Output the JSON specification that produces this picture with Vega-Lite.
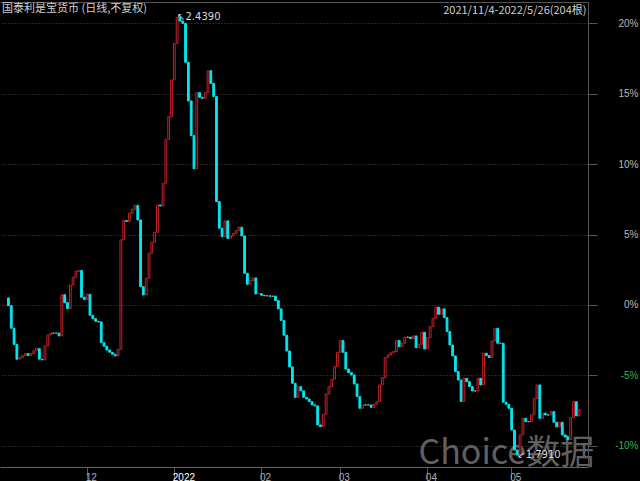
{
  "$schema": "https://vega.github.io/schema/vega-lite/v6.json",
  "autosize": {"type": "none"},
  "width": 588,
  "height": 465,
  "padding": {"left": 0, "top": 2, "right": 52, "bottom": 14},
  "background": "#000000",
  "config": {"view": {"stroke": null}},
  "title": {"text": "国泰利是宝货币 (日线,不复权)", "anchor": "start", "frame": "group", "offset": -12, "dx": 2, "fontSize": 11, "font": "Noto Sans CJK SC", "fontWeight": "normal", "color": "#cfcfcf"},
  "datasets": {
    "k": [
      {"d":"2021-11-04","o":0.5,"c":-0.05},{"d":"2021-11-05","o":-0.05,"c":-1.65},{"d":"2021-11-06","o":-1.65,"c":-2.8},{"d":"2021-11-07","o":-2.8,"c":-3.85},{"d":"2021-11-08","o":-3.85,"c":-3.75},{"d":"2021-11-09","o":-3.75,"c":-3.6},{"d":"2021-11-10","o":-3.6,"c":-3.45},{"d":"2021-11-11","o":-3.45,"c":-3.6},{"d":"2021-11-12","o":-3.6,"c":-3.45},{"d":"2021-11-13","o":-3.45,"c":-3.25},{"d":"2021-11-14","o":-3.25,"c":-3.1},{"d":"2021-11-15","o":-3.1,"c":-3.85},{"d":"2021-11-16","o":-3.85,"c":-3.9},{"d":"2021-11-17","o":-3.9,"c":-2.9},{"d":"2021-11-18","o":-2.9,"c":-2.13},{"d":"2021-11-19","o":-2.13,"c":-2.0},{"d":"2021-11-20","o":-2.0,"c":-2.0},{"d":"2021-11-21","o":-2.0,"c":-2.0},{"d":"2021-11-22","o":-2.0,"c":-2.2},{"d":"2021-11-23","o":-2.2,"c":0.73},{"d":"2021-11-24","o":0.73,"c":0.16},{"d":"2021-11-25","o":0.16,"c":-0.26},{"d":"2021-11-26","o":-0.26,"c":1.42},{"d":"2021-11-27","o":1.42,"c":1.97},{"d":"2021-11-28","o":1.97,"c":2.39},{"d":"2021-11-29","o":2.39,"c":2.45},{"d":"2021-11-30","o":2.45,"c":0.55},
      {"d":"2021-12-01","o":0.55,"c":0.4},{"d":"2021-12-02","o":0.4,"c":0.76},{"d":"2021-12-03","o":0.76,"c":-0.73},{"d":"2021-12-04","o":-0.73,"c":-0.97},{"d":"2021-12-05","o":-0.97,"c":-1.16},{"d":"2021-12-06","o":-1.16,"c":-1.2},{"d":"2021-12-07","o":-1.2,"c":-2.68},{"d":"2021-12-08","o":-2.68,"c":-2.93},{"d":"2021-12-09","o":-2.93,"c":-3.2},{"d":"2021-12-10","o":-3.2,"c":-3.36},{"d":"2021-12-11","o":-3.36,"c":-3.5},{"d":"2021-12-12","o":-3.5,"c":-3.62},{"d":"2021-12-13","o":-3.62,"c":-3.15},{"d":"2021-12-14","o":-3.15,"c":4.62},{"d":"2021-12-15","o":4.62,"c":5.99},{"d":"2021-12-16","o":5.99,"c":5.93},{"d":"2021-12-17","o":5.93,"c":6.51},{"d":"2021-12-18","o":6.51,"c":6.8},{"d":"2021-12-19","o":6.8,"c":7.08},{"d":"2021-12-20","o":7.08,"c":6.04},{"d":"2021-12-21","o":6.04,"c":1.3},{"d":"2021-12-22","o":1.3,"c":0.71},{"d":"2021-12-23","o":0.71,"c":1.9},{"d":"2021-12-24","o":1.9,"c":3.67},{"d":"2021-12-25","o":3.67,"c":4.45},{"d":"2021-12-26","o":4.45,"c":5.16},{"d":"2021-12-27","o":5.16,"c":7.1},{"d":"2021-12-28","o":7.1,"c":7.03},{"d":"2021-12-29","o":7.03,"c":8.64},{"d":"2021-12-30","o":8.64,"c":11.77},{"d":"2021-12-31","o":11.77,"c":13.37},
      {"d":"2022-01-01","o":13.37,"c":15.98},{"d":"2022-01-02","o":15.98,"c":18.59},{"d":"2022-01-03","o":18.59,"c":20.43},{"d":"2022-01-04","o":20.43,"c":20.17},{"d":"2022-01-05","o":20.17,"c":20.0},{"d":"2022-01-06","o":20.0,"c":17.24},{"d":"2022-01-07","o":17.24,"c":14.49},{"d":"2022-01-08","o":14.49,"c":12.03},{"d":"2022-01-09","o":12.03,"c":9.68},{"d":"2022-01-10","o":9.68,"c":15.08},{"d":"2022-01-11","o":15.08,"c":14.75},{"d":"2022-01-12","o":14.75,"c":14.68},{"d":"2022-01-13","o":14.68,"c":15.08},{"d":"2022-01-14","o":15.08,"c":16.64},{"d":"2022-01-15","o":16.64,"c":15.74},{"d":"2022-01-16","o":15.74,"c":14.8},{"d":"2022-01-17","o":14.8,"c":7.34},{"d":"2022-01-18","o":7.34,"c":5.45},{"d":"2022-01-19","o":5.45,"c":4.85},{"d":"2022-01-20","o":4.85,"c":5.97},{"d":"2022-01-21","o":5.97,"c":4.73},{"d":"2022-01-22","o":4.73,"c":4.9},{"d":"2022-01-23","o":4.9,"c":5.09},{"d":"2022-01-24","o":5.09,"c":5.28},{"d":"2022-01-25","o":5.28,"c":5.52},{"d":"2022-01-26","o":5.52,"c":4.9},{"d":"2022-01-27","o":4.9,"c":2.25},{"d":"2022-01-28","o":2.25,"c":1.47},{"d":"2022-01-29","o":1.47,"c":1.73},{"d":"2022-01-30","o":1.73,"c":1.92},{"d":"2022-01-31","o":1.92,"c":0.78},
      {"d":"2022-02-01","o":0.78,"c":0.8},{"d":"2022-02-02","o":0.8,"c":0.69},{"d":"2022-02-03","o":0.69,"c":0.65},{"d":"2022-02-04","o":0.65,"c":0.65},{"d":"2022-02-05","o":0.65,"c":0.62},{"d":"2022-02-06","o":0.62,"c":0.62},{"d":"2022-02-07","o":0.62,"c":0.31},{"d":"2022-02-08","o":0.31,"c":-0.28},{"d":"2022-02-09","o":-0.28,"c":-1.11},{"d":"2022-02-10","o":-1.11,"c":-2.15},{"d":"2022-02-11","o":-2.15,"c":-3.27},{"d":"2022-02-12","o":-3.27,"c":-4.4},{"d":"2022-02-13","o":-4.4,"c":-5.56},{"d":"2022-02-14","o":-5.56,"c":-6.56},{"d":"2022-02-15","o":-6.56,"c":-5.8},{"d":"2022-02-16","o":-5.8,"c":-6.1},{"d":"2022-02-17","o":-6.1,"c":-6.56},{"d":"2022-02-18","o":-6.56,"c":-6.68},{"d":"2022-02-19","o":-6.68,"c":-6.87},{"d":"2022-02-20","o":-6.87,"c":-7.1},{"d":"2022-02-21","o":-7.1,"c":-7.17},{"d":"2022-02-22","o":-7.17,"c":-8.52},{"d":"2022-02-23","o":-8.52,"c":-8.64},{"d":"2022-02-24","o":-8.64,"c":-7.76},{"d":"2022-02-25","o":-7.76,"c":-6.32},{"d":"2022-02-26","o":-6.32,"c":-5.8},{"d":"2022-02-27","o":-5.8,"c":-5.28},{"d":"2022-02-28","o":-5.28,"c":-4.38},
      {"d":"2022-03-01","o":-4.38,"c":-3.36},{"d":"2022-03-02","o":-3.36,"c":-2.53},{"d":"2022-03-03","o":-2.53,"c":-3.36},{"d":"2022-03-04","o":-3.36,"c":-4.55},{"d":"2022-03-05","o":-4.55,"c":-4.81},{"d":"2022-03-06","o":-4.81,"c":-4.97},{"d":"2022-03-07","o":-4.97,"c":-5.61},{"d":"2022-03-08","o":-5.61,"c":-6.51},{"d":"2022-03-09","o":-6.51,"c":-7.34},{"d":"2022-03-10","o":-7.34,"c":-7.1},{"d":"2022-03-11","o":-7.1,"c":-7.1},{"d":"2022-03-12","o":-7.1,"c":-7.1},{"d":"2022-03-13","o":-7.1,"c":-7.27},{"d":"2022-03-14","o":-7.27,"c":-7.05},{"d":"2022-03-15","o":-7.05,"c":-6.87},{"d":"2022-03-16","o":-6.87,"c":-5.68},{"d":"2022-03-17","o":-5.68,"c":-5.16},{"d":"2022-03-18","o":-5.16,"c":-3.74},{"d":"2022-03-19","o":-3.74,"c":-3.55},{"d":"2022-03-20","o":-3.55,"c":-3.39},{"d":"2022-03-21","o":-3.39,"c":-3.31},{"d":"2022-03-22","o":-3.31,"c":-2.53},{"d":"2022-03-23","o":-2.53,"c":-2.96},{"d":"2022-03-24","o":-2.96,"c":-2.72},{"d":"2022-03-25","o":-2.72,"c":-2.29},{"d":"2022-03-26","o":-2.29,"c":-2.29},{"d":"2022-03-27","o":-2.29,"c":-2.39},{"d":"2022-03-28","o":-2.39,"c":-2.2},{"d":"2022-03-29","o":-2.2,"c":-3.03},{"d":"2022-03-30","o":-3.03,"c":-2.79},{"d":"2022-03-31","o":-2.79,"c":-1.94},
      {"d":"2022-04-01","o":-1.94,"c":-3.13},{"d":"2022-04-02","o":-3.13,"c":-2.32},{"d":"2022-04-03","o":-2.32,"c":-1.54},{"d":"2022-04-04","o":-1.54,"c":-0.95},{"d":"2022-04-05","o":-0.95,"c":-0.16},{"d":"2022-04-06","o":-0.16,"c":-0.66},{"d":"2022-04-07","o":-0.66,"c":-0.28},{"d":"2022-04-08","o":-0.28,"c":-0.9},{"d":"2022-04-09","o":-0.9,"c":-1.89},{"d":"2022-04-10","o":-1.89,"c":-2.84},{"d":"2022-04-11","o":-2.84,"c":-3.62},{"d":"2022-04-12","o":-3.62,"c":-4.73},{"d":"2022-04-13","o":-4.73,"c":-5.33},{"d":"2022-04-14","o":-5.33,"c":-6.85},{"d":"2022-04-15","o":-6.85,"c":-5.21},{"d":"2022-04-16","o":-5.21,"c":-5.45},{"d":"2022-04-17","o":-5.45,"c":-5.8},{"d":"2022-04-18","o":-5.8,"c":-6.11},{"d":"2022-04-19","o":-6.11,"c":-6.11},{"d":"2022-04-20","o":-6.11,"c":-5.21},{"d":"2022-04-21","o":-5.21,"c":-5.68},{"d":"2022-04-22","o":-5.68,"c":-3.43},{"d":"2022-04-23","o":-3.43,"c":-3.6},{"d":"2022-04-24","o":-3.6,"c":-3.74},{"d":"2022-04-25","o":-3.74,"c":-2.56},{"d":"2022-04-26","o":-2.56,"c":-1.66},{"d":"2022-04-27","o":-1.66,"c":-2.72},{"d":"2022-04-28","o":-2.72,"c":-2.72},{"d":"2022-04-29","o":-2.72,"c":-6.91},{"d":"2022-04-30","o":-6.91,"c":-7.06},
      {"d":"2022-05-01","o":-7.06,"c":-7.34},{"d":"2022-05-02","o":-7.34,"c":-8.88},{"d":"2022-05-03","o":-8.88,"c":-10.3},{"d":"2022-05-04","o":-10.3,"c":-10.65},{"d":"2022-05-05","o":-10.65,"c":-9.23},{"d":"2022-05-06","o":-9.23,"c":-8.05},{"d":"2022-05-07","o":-8.05,"c":-8.29},{"d":"2022-05-08","o":-8.29,"c":-8.29},{"d":"2022-05-09","o":-8.29,"c":-7.81},{"d":"2022-05-10","o":-7.81,"c":-6.63},{"d":"2022-05-11","o":-6.63,"c":-5.68},{"d":"2022-05-12","o":-5.68,"c":-8.05},{"d":"2022-05-13","o":-8.05,"c":-7.69},{"d":"2022-05-14","o":-7.69,"c":-7.81},{"d":"2022-05-15","o":-7.81,"c":-7.81},{"d":"2022-05-16","o":-7.81,"c":-7.57},{"d":"2022-05-17","o":-7.57,"c":-8.33},{"d":"2022-05-18","o":-8.33,"c":-8.66},{"d":"2022-05-19","o":-8.66,"c":-8.33},{"d":"2022-05-20","o":-8.33,"c":-9.23},{"d":"2022-05-21","o":-9.23,"c":-9.38},{"d":"2022-05-22","o":-9.38,"c":-9.56},{"d":"2022-05-23","o":-9.56,"c":-8.0},{"d":"2022-05-24","o":-8.0,"c":-6.87},{"d":"2022-05-25","o":-6.87,"c":-7.88},{"d":"2022-05-26","o":-7.88,"c":-7.43}
    ],
    "marks": [
      {"d":"2022-01-03","v":20.43,"t":"↖2.4390","pos":"hi"},
      {"d":"2022-05-04","v":-10.65,"t":"↙1.7910","pos":"lo"}
    ]
  },
  "resolve": {"axis": {"x": "independent", "y": "independent"}},
  "layer": [
    {
      "data": {"name": "k"},
      "mark": {"type": "bar", "width": 1.8, "strokeWidth": 1},
      "encoding": {
        "x": {
          "field": "d", "type": "temporal",
          "scale": {"type": "utc", "domain": [
            {"year": 2021, "month": 11, "date": 2, "hours": 18, "minutes": 37, "utc": true},
            {"year": 2022, "month": 5, "date": 27, "hours": 8, "minutes": 53, "utc": true}
          ]},
          "axis": {
            "orient": "bottom",
            "values": [
              {"year": 2021, "month": 12, "date": 1, "utc": true},
              {"year": 2022, "month": 1, "date": 1, "utc": true},
              {"year": 2022, "month": 2, "date": 1, "utc": true},
              {"year": 2022, "month": 3, "date": 1, "utc": true},
              {"year": 2022, "month": 4, "date": 1, "utc": true},
              {"year": 2022, "month": 5, "date": 1, "utc": true}
            ],
            "labelExpr": "utcmonth(datum.value) == 0 ? utcFormat(datum.value, '%Y') : utcFormat(datum.value, '%m')",
            "labelAlign": "left", "labelBaseline": "top", "labelPadding": -7, "labelOffset": -1.5,
            "tickOffset": 2.3, "tickSize": 12, "tickColor": "#555555", "domainColor": "#666666",
            "labelFontSize": 10, "labelFont": "Liberation Sans", "labelFlush": false, "labelOverlap": false,
            "labelColor": {"condition": {"test": "utcmonth(datum.value) == 0", "value": "#ffffff"}, "value": "#b0b0b0"},
            "grid": false,
            "title": "Choice数据", "titleX": 418, "titleY": -4, "titleAlign": "left", "titleAnchor": null,
            "titleBaseline": "alphabetic", "titleFontSize": 34, "titleFontWeight": "normal",
            "titleColor": "#606060", "titleFont": "Noto Sans CJK SC"
          }
        },
        "y": {
          "field": "o", "type": "quantitative",
          "scale": {"domain": [-11.51, 21.52], "nice": false, "zero": false},
          "axis": {
            "orient": "right", "values": [-10, -5, 0, 5, 10, 15, 20],
            "labelExpr": "datum.value + '%'", "labelAlign": "right", "labelPadding": 41,
            "labelFontSize": 10, "labelFont": "Liberation Sans",
            "labelColor": {"condition": {"test": "datum.value < 0", "value": "#2fb350"}, "value": "#b8b8b8"},
            "tickSize": 9, "tickColor": "#555555", "domainColor": "#555555",
            "grid": true, "gridColor": "#484848", "gridDash": [1, 2], "title": null
          }
        },
        "y2": {"field": "c"},
        "fill": {"condition": {"test": "datum.c > datum.o", "value": "#000000"}, "value": "#00e8f0"},
        "stroke": {"condition": [
          {"test": "datum.c > datum.o", "value": "#c4222c"},
          {"test": "datum.c < datum.o", "value": "#00e8f0"}
        ], "value": "#aaaaaa"}
      }
    },
    {
      "data": {"name": "marks"},
      "mark": {"type": "text", "align": "left", "baseline": "middle", "fontSize": 10, "font": "DejaVu Sans", "color": "#d8d8d8"},
      "encoding": {
        "x": {
          "field": "d", "type": "temporal",
          "axis": {
            "orient": "top", "labels": false, "ticks": false, "grid": false, "domain": true, "domainColor": "#555555",
            "title": "2021/11/4-2022/5/26(204根)", "titleX": 586, "titleY": 11.5, "titleAlign": "right", "titleAnchor": null,
            "titleBaseline": "alphabetic", "titleFontSize": 11, "titleFontWeight": "normal", "titleColor": "#cfcfcf",
            "titleFont": "Noto Sans CJK SC"
          }
        },
        "y": {"field": "v", "type": "quantitative", "axis": null},
        "text": {"field": "t"},
        "dx": {"condition": {"test": "datum.pos == 'hi'", "value": 7}, "value": 6},
        "dy": {"condition": {"test": "datum.pos == 'hi'", "value": 8}, "value": -6}
      }
    }
  ]
}
